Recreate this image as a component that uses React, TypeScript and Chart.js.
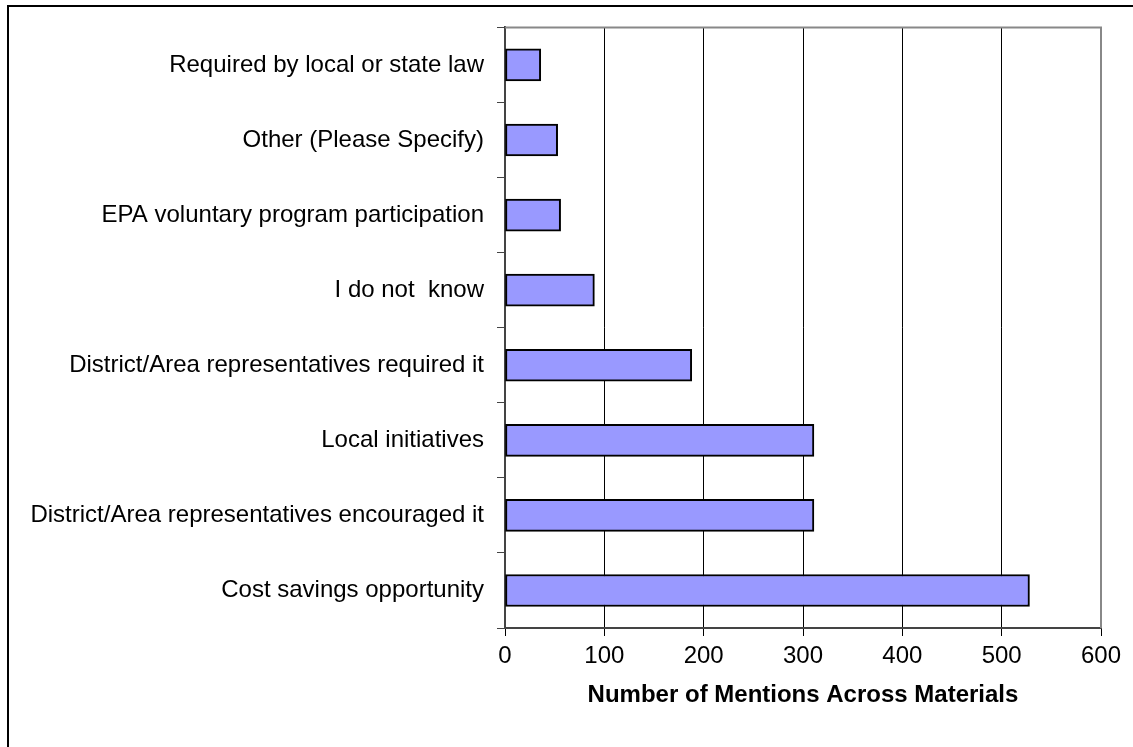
import React, { useEffect, useRef } from "react";
import { Chart, registerables } from "chart.js";

Chart.register(...registerables);

const categories = [
  "Required by local or state law",
  "Other (Please Specify)",
  "EPA voluntary program participation",
  "I do not  know",
  "District/Area representatives required it",
  "Local initiatives",
  "District/Area representatives encouraged it",
  "Cost savings opportunity",
];
const mentions = [36, 53, 56, 90, 188, 311, 311, 528];
const xTicks = [0, 100, 200, 300, 400, 500, 600];
const xTitle = "Number of Mentions Across Materials";

const FONT = "'Liberation Sans', Arial, sans-serif";

const framePlugin = {
  id: "frame",
  afterDraw(chart: any) {
    const ctx = chart.ctx;
    const a = chart.chartArea;
    ctx.save();
    ctx.strokeStyle = "#000";
    ctx.lineWidth = 2;
    ctx.strokeRect(8, 6, 1300, 1000);
    ctx.strokeStyle = "#888";
    ctx.lineWidth = 2;
    ctx.beginPath();
    ctx.moveTo(a.left, a.top);
    ctx.lineTo(a.right, a.top);
    ctx.lineTo(a.right, a.bottom);
    ctx.stroke();
    ctx.restore();
  },
};

export default function App() {
  const ref = useRef<HTMLCanvasElement>(null);
  useEffect(() => {
    document.body.style.margin = "0";
    const chart = new Chart(ref.current!, {
      type: "bar",
      data: {
        labels: categories,
        datasets: [
          {
            data: mentions,
            backgroundColor: "#9999FF",
            borderColor: "#000",
            borderWidth: 2,
            borderSkipped: false,
            barThickness: 32,
          },
        ],
      },
      options: {
        indexAxis: "y",
        animation: false,
        responsive: false,
        layout: { padding: { left: 0, right: 32, top: 24, bottom: 20 } },
        plugins: { legend: { display: false }, tooltip: { enabled: false } },
        scales: {
          x: {
            min: 0,
            max: 600,
            afterBuildTicks: (s: any) => {
              s.ticks = xTicks.map((v) => ({ value: v }));
            },
            afterFit: (s: any) => {
              s.height = 747 - 628 - 20;
            },
            grid: { color: "#000", lineWidth: 1, tickLength: 8, drawTicks: true },
            border: { color: "#444", width: 2 },
            ticks: { color: "#000", font: { family: FONT, size: 24 }, padding: 6, maxRotation: 0 },
            title: {
              display: true,
              text: xTitle,
              color: "#000",
              font: { family: FONT, size: 24, weight: "bold" },
              padding: { top: 0, bottom: 17 },
            },
          },
          y: {
            afterFit: (s: any) => {
              s.width = 505;
            },
            grid: { drawOnChartArea: false, color: "#444", tickLength: 8, offset: true },
            border: { color: "#444", width: 2 },
            ticks: { color: "#000", font: { family: FONT, size: 24 }, padding: 13 },
          },
        },
      },
      plugins: [framePlugin],
    });
    return () => chart.destroy();
  }, []);
  return (
    <div style={{ position: "absolute", left: 0, top: 0, width: 1133, height: 747, background: "#fff" }}>
      <canvas ref={ref} width={1133} height={747} />
    </div>
  );
}
